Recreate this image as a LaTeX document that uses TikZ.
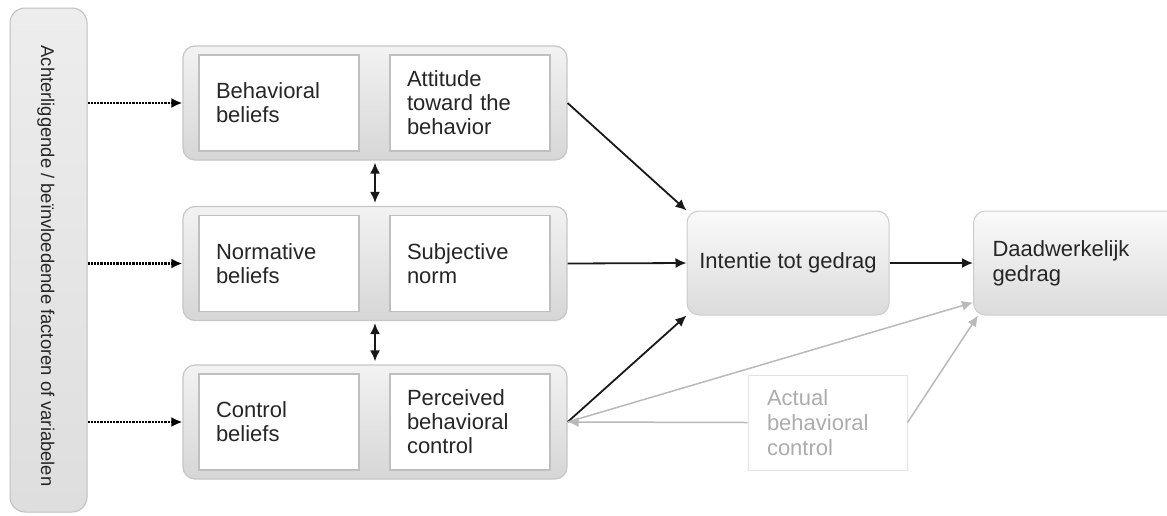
\documentclass[tikz,border=0pt]{standalone}
\usepackage{fontspec}
\setmainfont{Liberation Sans}
\usetikzlibrary{positioning}
\usetikzlibrary{arrows.meta}

\begin{document}
\begin{tikzpicture}[x=1pt, y=-1pt,
  >={Latex[length=11pt,width=10pt]},
  background/.style={draw=gray!50, line width=1pt, rounded corners=15pt, top color=gray!14, bottom color=gray!26, minimum width=77pt, minimum height=504pt},
  group/.style={draw=gray!45, line width=1.2pt, rounded corners=12pt, top color=gray!10, bottom color=gray!32, minimum width=384pt, minimum height=114pt},
  inbox/.style={draw=gray!50, line width=1.5pt, fill=white, text=black!85, text width=126pt, inner xsep=17pt, minimum height=96pt, align=left, font=\fontsize{22}{24}\selectfont},
  mainbox/.style={draw=gray!40, line width=1pt, rounded corners=12pt, top color=gray!4, bottom color=gray!28, text=black!85, minimum height=104pt, font=\fontsize{22}{25}\selectfont},
  actbox/.style={draw=gray!22, line width=1pt, fill=white, text=gray!65, text width=121pt, inner xsep=19pt, minimum height=95pt, align=left, font=\fontsize{22}{25}\selectfont},
  dotarrow/.style={line width=2.2pt, densely dotted},
  blackarrow/.style={line width=1.8pt, black!90},
  grayarrow/.style={line width=1.5pt, gray!55}]
 \path[use as bounding box, clip] (0,0) rectangle (1167,515);

 %background factors
 \node[background] (bg) at (48.5,260) {};
 \node[rotate=-90, text=black!85, font=\fontsize{18.4}{20}\selectfont] (bgtext) at (46,266) {Achterliggende / beïnvloedende factoren of variabelen};

 %attitude
 \node[group] (g1) at (375,103) {};
 \node[inbox] (bb) at (279,103) {Behavioral\\beliefs};
 \node[inbox] (att) at (470,103) {Attitude\\toward the\\behavior};

 %norm
 \node[group] (g2) at (375,263.5) {};
 \node[inbox] (nb) at (279,263.5) {Normative\\beliefs};
 \node[inbox] (sn) at (470,263.5) {Subjective\\norm};

 %control
 \node[group] (g3) at (375,422) {};
 \node[inbox] (cb) at (279,422) {Control\\beliefs};
 \node[inbox] (pbc) at (470,422) {Perceived\\behavioral\\control};

 %intention, behavior
 \node[mainbox, minimum width=202pt] (int) at (788,263) {Intentie tot gedrag};
 \node[mainbox, anchor=west, text width=180pt, inner xsep=19pt, align=left] (daad) at (973,263) {Daadwerkelijk\\gedrag};
 \node[actbox] (act) at (827.5,422.5) {Actual\\behavioral\\control};

 %dotted lines
 \path[draw, ->, dotarrow] (bg.east |- g1.west) -- (g1.west);
 \path[draw, ->, dotarrow] (bg.east |- g2.west) -- (g2.west);
 \path[draw, ->, dotarrow] (bg.east |- g3.west) -- (g3.west);

 %lines
 \path[draw, <->, blackarrow, shorten <=2pt, shorten >=3pt] (g1.south) -- (g2.north);
 \path[draw, <->, blackarrow, shorten <=2pt, shorten >=3pt] (g2.south) -- (g3.north);

 \path[draw, ->, blackarrow] (g1.east) -- (int.north west);
 \path[draw, ->, blackarrow] (g2.east) -- (int.west);
 \path[draw, ->, blackarrow] (g3.east) -- (int.south west);
 \path[draw, ->, blackarrow] (int.east) -- (daad.west);

 %actual control
 \path[draw, ->, grayarrow] (g3.east) -- ([yshift=13pt]daad.south west);
 \path[draw, ->, grayarrow] (act.east) -- ([xshift=5pt]daad.south west);
 \path[draw, ->, grayarrow] (act.west) -- (g3.east);

\end{tikzpicture}
\end{document}
